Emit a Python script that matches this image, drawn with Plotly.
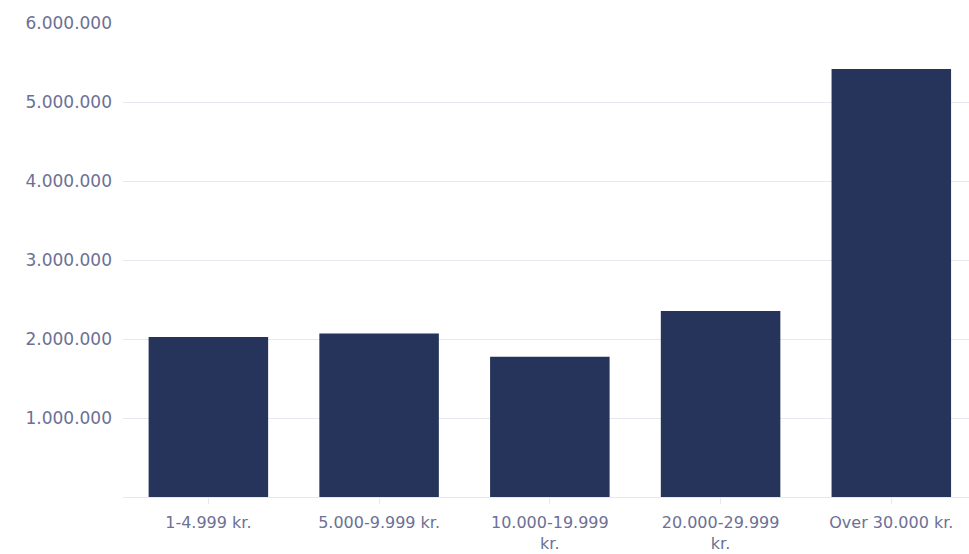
import plotly.graph_objects as go

# Income brackets and totals per bracket
categories = ["1-4.999 kr.", "5.000-9.999 kr.", "10.000-19.999<br>kr.",
              "20.000-29.999<br>kr.", "Over 30.000 kr."]
values = [2025000, 2070000, 1776000, 2354000, 5418000]
y_ticks = [1000000, 2000000, 3000000, 4000000, 5000000, 6000000]

bar_color = "#26345b"
text_color = "#6c7094"
grid_color = "#e6e8f0"

fig = go.Figure(
    go.Bar(
        x=list(range(len(categories))),
        y=values,
        marker=dict(color=bar_color, line=dict(width=0)),
        hoverinfo="y",
    )
)

fig.update_layout(
    width=969,
    height=554,
    margin=dict(l=123, r=0, t=23, b=57),
    paper_bgcolor="white",
    plot_bgcolor="white",
    bargap=0.30,
    separators=",.",
    showlegend=False,
    font=dict(family="DejaVu Sans, sans-serif", size=16, color=text_color),
)

fig.update_xaxes(
    tickmode="array",
    tickvals=list(range(len(categories))),
    ticktext=categories,
    range=[-0.5, 4.455],
    showgrid=False,
    showline=True,
    linecolor=grid_color,
    linewidth=1,
    ticks="outside",
    ticklen=6,
    tickcolor=grid_color,
    ticklabelstandoff=5,
    tickfont=dict(size=16, color=text_color),
    zeroline=False,
)

fig.update_yaxes(
    range=[0, 6000000],
    tickmode="array",
    tickvals=y_ticks,
    tickformat=",d",
    showgrid=True,
    gridcolor=grid_color,
    gridwidth=1,
    zeroline=False,
    showline=False,
    ticks="",
    ticklabelstandoff=10,
    tickfont=dict(size=17, color=text_color),
)

fig.write_html("out.html")
